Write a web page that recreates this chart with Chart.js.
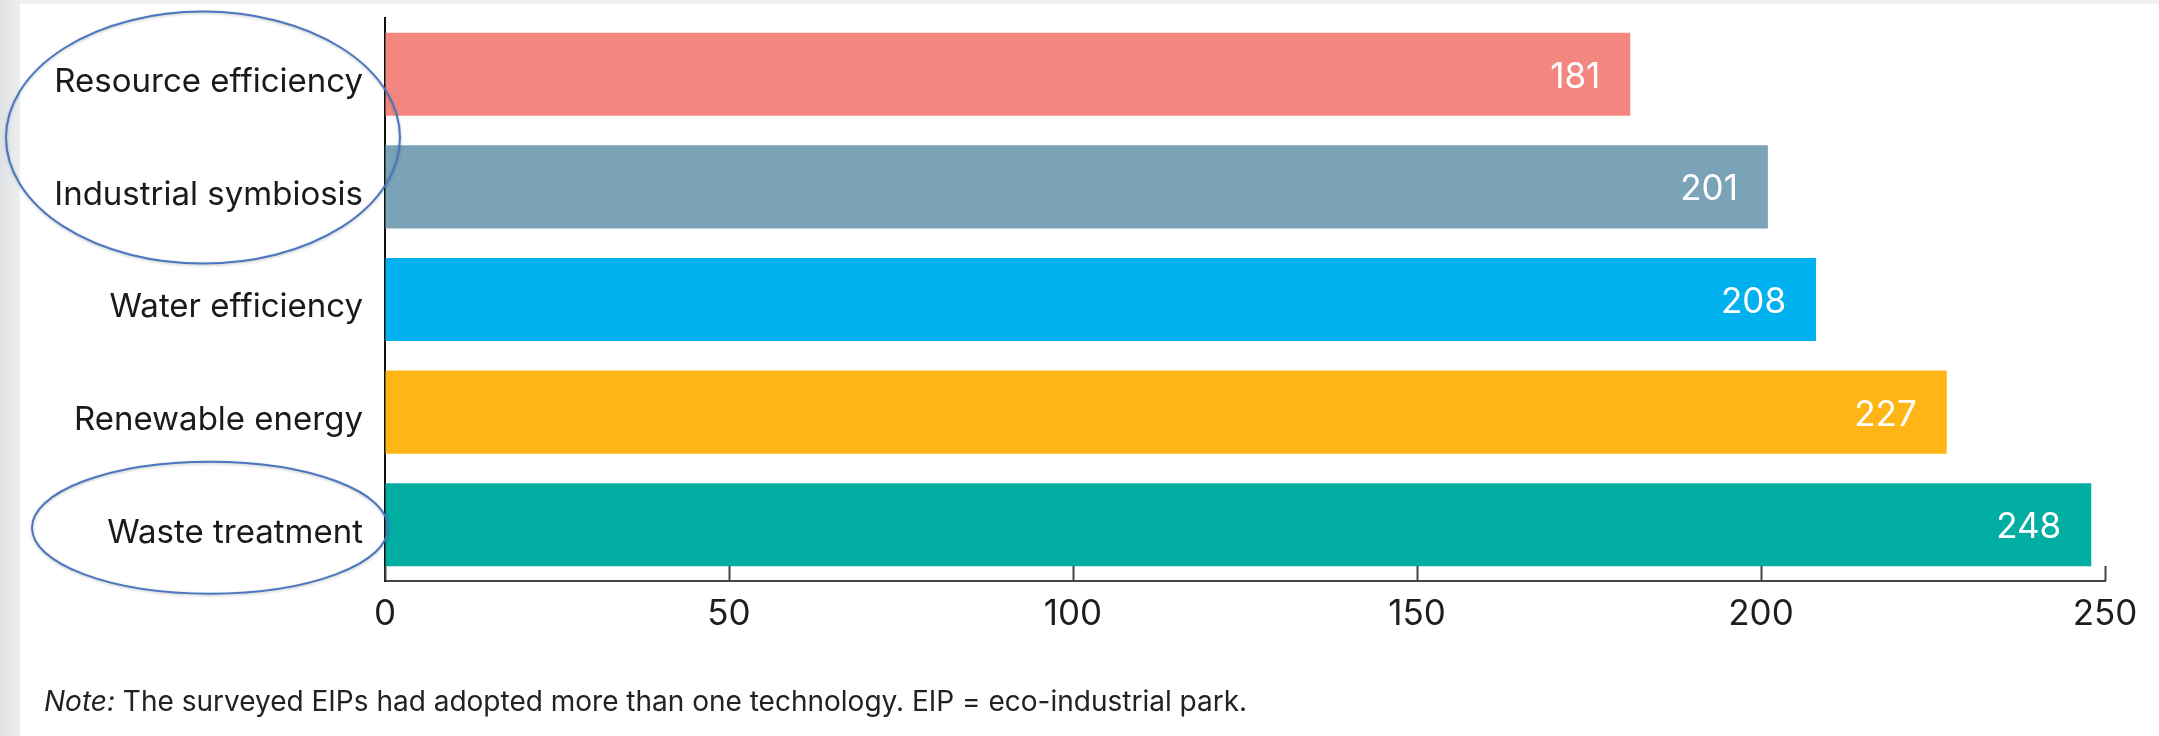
<!DOCTYPE html>
<html>
<head>
<meta charset="utf-8">
<script src="https://cdn.jsdelivr.net/npm/chart.js@4"></script>
<style>
  html, body { margin: 0; padding: 0; background: #fff; }
  canvas { display: block; }
</style>
</head>
<body>
<canvas id="techChart" width="2159" height="736"></canvas>
<script>
var categories = ['Resource efficiency', 'Industrial symbiosis', 'Water efficiency', 'Renewable energy', 'Waste treatment'];
var adoptedCounts = [181, 201, 208, 227, 248];
var barColors = ['#f3877f', '#7aa3b7', '#00b1f0', '#ffb515', '#02ada1'];
var xTicks = [0, 50, 100, 150, 200, 250];
var noteLead = 'Note:';
var noteText = ' The surveyed EIPs had adopted more than one technology. EIP = eco-industrial park.';

var FONT = 'Inter, "Liberation Sans", Arial, sans-serif';

// page backdrop: grey margin on the left and top, white panel behind the chart
var backdrop = {
    id: 'backdrop',
    beforeDraw: function (chart) {
        var c = chart.ctx;
        c.save();
        c.fillStyle = '#ffffff';
        c.fillRect(0, 0, chart.width, chart.height);
        var g = c.createLinearGradient(0, 0, 20, 0);
        g.addColorStop(0, '#dfe1e3');
        g.addColorStop(1, '#eceef0');
        c.fillStyle = g;
        c.fillRect(0, 0, 20, chart.height);
        c.fillStyle = '#eef0f2';
        c.fillRect(20, 0, chart.width - 20, 4);
        c.restore();
    }
};

// short upward tick marks on the value axis
var innerTicks = {
    id: 'innerTicks',
    beforeDatasetsDraw: function (chart) {
        var c = chart.ctx, xs = chart.scales.x, bottom = chart.chartArea.bottom;
        c.save();
        c.strokeStyle = '#444';
        c.lineWidth = 2;
        xs.ticks.forEach(function (t) {
            var px = Math.round(xs.getPixelForValue(t.value)) + 0.5;
            c.beginPath();
            c.moveTo(px, bottom);
            c.lineTo(px, bottom - 15);
            c.stroke();
        });
        c.restore();
    }
};

// white value labels inside the bar ends
var valueLabels = {
    id: 'valueLabels',
    afterDatasetsDraw: function (chart) {
        var c = chart.ctx;
        var meta = chart.getDatasetMeta(0);
        c.save();
        c.fillStyle = '#ffffff';
        c.font = '35px ' + FONT;
        c.textAlign = 'right';
        c.textBaseline = 'middle';
        meta.data.forEach(function (bar, i) {
            c.fillText(String(adoptedCounts[i]), bar.x - 30, bar.y + 3);
        });
        c.restore();
    }
};

// highlight ovals around some category labels
var highlightOvals = {
    id: 'highlightOvals',
    afterDraw: function (chart) {
        var c = chart.ctx, ys = chart.scales.y, left = chart.chartArea.left;
        var y01 = (ys.getPixelForValue(0) + ys.getPixelForValue(1)) / 2;
        var y4 = ys.getPixelForValue(4);
        c.save();
        c.strokeStyle = '#4a76c0';
        c.lineWidth = 2;
        c.shadowColor = 'rgba(0,0,0,0.25)';
        c.shadowBlur = 3;
        c.shadowOffsetY = 1;
        c.beginPath();
        c.ellipse(left - 182, y01 + 7, 197, 126, 0, 0, Math.PI * 2);
        c.stroke();
        c.beginPath();
        c.ellipse(left - 175, y4 + 3, 178, 66, 0, 0, Math.PI * 2);
        c.stroke();
        c.restore();
    }
};

// footnote with italic lead-in
var footnote = {
    id: 'footnote',
    afterDraw: function (chart) {
        var c = chart.ctx;
        var x = 44, y = 711;
        c.save();
        c.fillStyle = '#222';
        c.textBaseline = 'alphabetic';
        c.textAlign = 'left';
        c.font = 'italic 28px ' + FONT;
        c.fillText(noteLead, x, y);
        x += c.measureText(noteLead).width;
        c.font = '28px ' + FONT;
        c.fillText(noteText, x, y);
        c.restore();
    }
};

var ctx = document.getElementById('techChart').getContext('2d');
var techChart = new Chart(ctx, {
    type: 'bar',
    data: {
        labels: categories,
        datasets: [{
            label: 'Technologies adopted',
            data: adoptedCounts,
            backgroundColor: barColors,
            borderWidth: 0,
            categoryPercentage: 1,
            barPercentage: 0.738
        }]
    },
    options: {
        indexAxis: 'y',
        responsive: false,
        animation: false,
        devicePixelRatio: 1,
        layout: { padding: { top: 18, right: 54, bottom: 95, left: 0 } },
        plugins: {
            legend: { display: false },
            tooltip: { enabled: false }
        },
        scales: {
            x: {
                min: 0,
                max: 250,
                afterBuildTicks: function (scale) {
                    scale.ticks = xTicks.map(function (v) { return { value: v }; });
                },
                afterFit: function (scale) {
                    scale.height = 60;
                    scale.paddingLeft = 0;
                    scale.paddingRight = 0;
                },
                grid: { display: true, drawOnChartArea: false, drawTicks: false },
                border: { display: true, color: '#444', width: 2 },
                ticks: {
                    color: '#1e1e1e',
                    padding: 12,
                    font: { family: FONT, size: 35 }
                }
            },
            y: {
                afterFit: function (scale) {
                    scale.width = 385;
                    scale.paddingTop = 0;
                    scale.paddingBottom = 0;
                },
                grid: { display: false, drawTicks: false },
                border: { display: true, color: '#111', width: 2 },
                ticks: {
                    color: '#1a1a1a',
                    padding: 22,
                    labelOffset: 8,
                    font: { family: FONT, size: 33 }
                }
            }
        }
    },
    plugins: [backdrop, innerTicks, valueLabels, highlightOvals, footnote]
});
</script>
</body>
</html>
